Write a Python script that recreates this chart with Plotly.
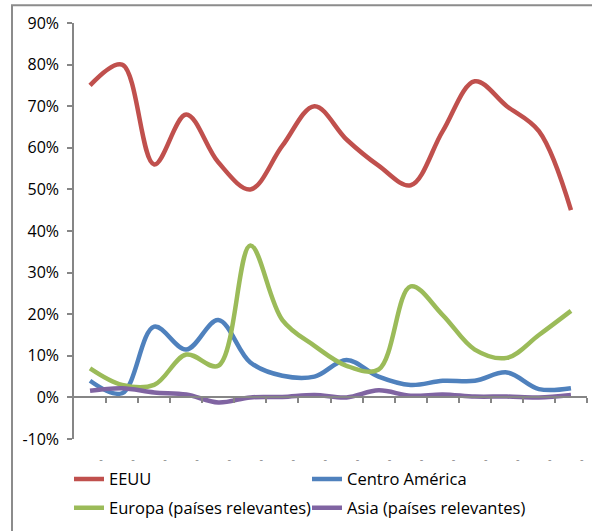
import plotly.graph_objects as go

# Sixteen periods along the category axis; each is labelled with a dash
periods = list(range(16))
period_labels = ["-"] * 16

eeuu = [75, 80, 56, 68, 56.5, 50, 60.5, 70, 62, 55.7, 51, 64, 76, 70, 64, 45]
centro_america = [4, 1, 17, 11.5, 18.6, 8.4, 5.2, 5, 9, 5, 3, 4, 4, 6, 2, 2.2]
europa = [7, 3, 3, 10.3, 7.6, 36.5, 18.6, 12.4, 7.6, 6.7, 26.7, 19.8, 11.5, 9.5, 15, 20.8]
asia = [1.6, 2.2, 1.2, 0.7, -1.2, 0, 0.1, 0.6, 0, 1.7, 0.4, 0.7, 0.2, 0.2, 0, 0.6]

# (name, values, colour, legend row)
series = [
    ("EEUU", eeuu, "#C0504D", "legend"),
    ("Centro América", centro_america, "#4F81BD", "legend"),
    ("Europa (países relevantes)", europa, "#9BBB59", "legend2"),
    ("Asia (países relevantes)", asia, "#8064A2", "legend2"),
]

y_ticks = list(range(-10, 100, 10))
y_tick_text = [f"{v}%" for v in y_ticks]

FONT = "Open Sans"
AXIS = "#868686"

fig = go.Figure()
for name, values, color, leg in series:
    fig.add_trace(go.Scatter(
        x=periods, y=values, name=name, mode="lines", legend=leg,
        line=dict(color=color, width=4.5, shape="spline", smoothing=1.0),
        hoverinfo="x+y+name",
    ))

# empty trace so the zero-level category axis is drawn
fig.add_trace(go.Scatter(x=[None], y=[None], xaxis="x2", showlegend=False,
                         hoverinfo="skip"))

W, H = 592, 531
ml, mr, mt, mb = 74, 5, 23, 89
pw, ph = W - ml - mr, H - mt - mb


def legend_row(top_px):
    return dict(
        orientation="h", x=(69 - ml) / pw, xanchor="left",
        y=(H - mb - top_px) / ph, yanchor="top",
        font=dict(size=16.5, family=FONT, color="#000000"),
        entrywidth=193, traceorder="normal",
        bgcolor="rgba(0,0,0,0)",
    )


fig.update_layout(
    width=W, height=H,
    margin=dict(l=ml, r=mr, t=mt, b=mb, pad=0),
    paper_bgcolor="white", plot_bgcolor="white",
    font=dict(family=FONT, color="#000000"),
    showlegend=True,
    legend=legend_row(465),
    legend2=legend_row(494),
    xaxis=dict(
        range=[-0.5, 15.5], showgrid=False, zeroline=False, showline=False,
        tickmode="array", tickvals=[p + 0.34 for p in periods], ticktext=period_labels,
        ticks="", tickfont=dict(size=11, color="#8a8a8a", family=FONT),
        ticklabelstandoff=12,
    ),
    xaxis2=dict(
        range=[-0.5, 15.5], overlaying="x", anchor="free", position=0.1,
        showgrid=False, zeroline=False, showline=True, linecolor=AXIS, linewidth=1.5,
        tickmode="array", tickvals=[p + 0.5 for p in periods],
        ticks="outside", ticklen=5, tickwidth=1.5, tickcolor=AXIS,
        showticklabels=False,
    ),
    yaxis=dict(
        range=[-10, 90], showgrid=False, zeroline=False,
        showline=True, linecolor=AXIS, linewidth=1.5,
        tickmode="array", tickvals=y_ticks, ticktext=y_tick_text,
        ticks="outside", ticklen=5, tickwidth=1.5, tickcolor=AXIS,
        tickfont=dict(size=16, family=FONT, color="#000000"),
        ticklabelstandoff=5,
    ),
)

# outer frame of the chart area (left and top edges visible)
fig.add_shape(type="rect", xref="paper", yref="paper",
              x0=(12 - ml) / pw, x1=(W + 20 - ml) / pw,
              y0=(H - mb - (H + 20)) / ph, y1=(H - mb - 5) / ph,
              line=dict(color="#8c8c8c", width=2), layer="below")

fig.write_html("out.html")
